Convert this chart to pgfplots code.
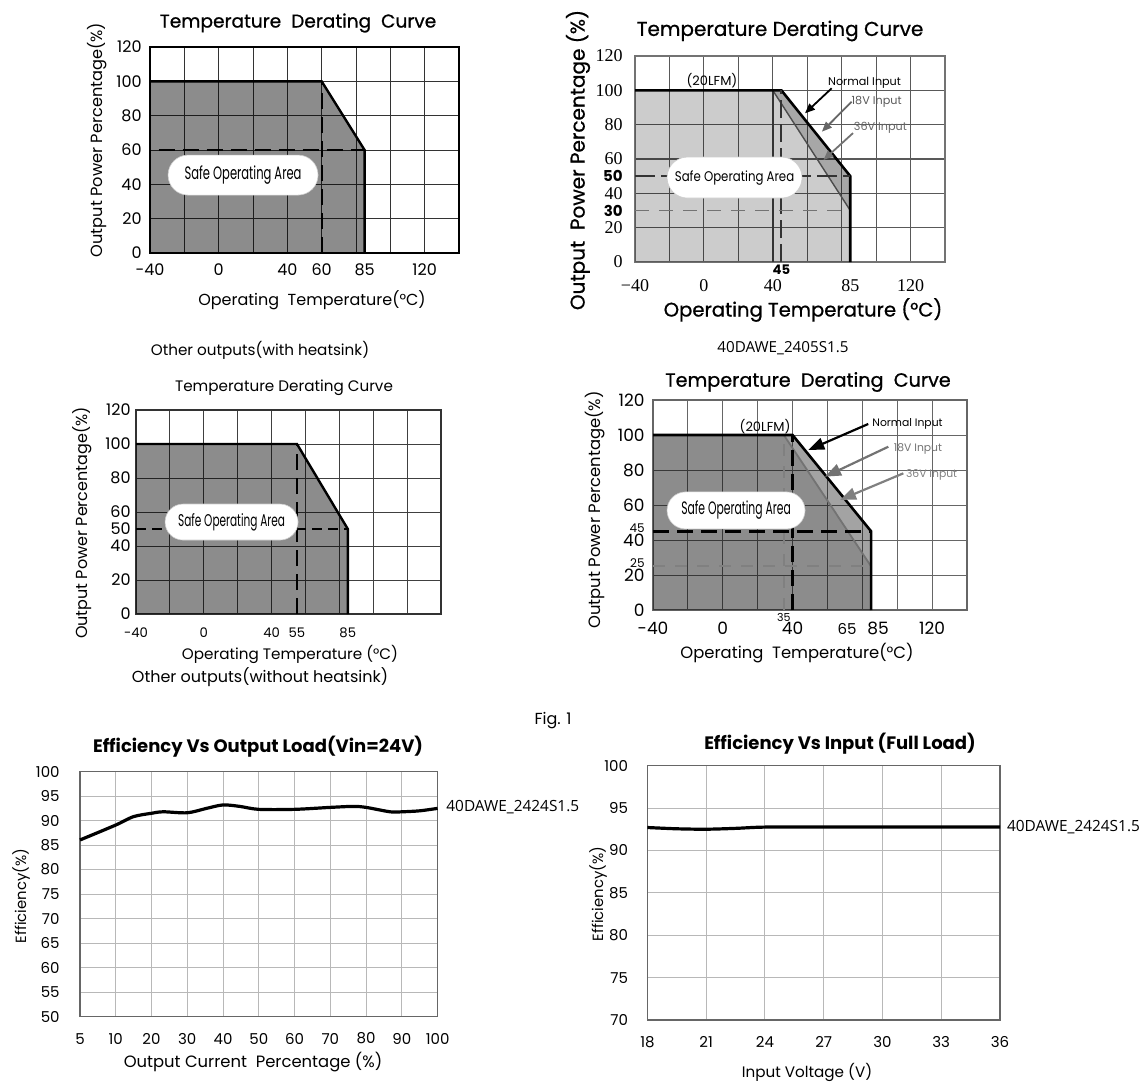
\documentclass[border=0pt]{standalone}
\usepackage{fontspec}
\setmainfont{Poppins}
\newfontfamily\popm{Poppins}[FakeBold=0.8]
\newfontfamily\serif{Liberation Serif}
\newfontfamily\osans{Open Sans}
\usepackage{graphicx}
\usepackage{pgfplots}
\pgfplotsset{compat=1.18}
\usetikzlibrary{shapes.misc, arrows.meta}
\newcommand\fs[1]{\fontsize{#1}{#1}\selectfont}
\newcommand\soa[2]{\scalebox{#2}[1]{\fs{#1}Safe Operating Area}}

\pgfplotsset{
 derate/.style={scale only axis, anchor=south west, xmin=-40, xmax=140, ymin=0, ymax=120,
   xtick={-40,-20,...,140}, ytick={0,20,...,120}, grid=major, major tick length=0pt,
   clip=false, /pgf/number format/assume math mode=true,
   extra x tick style={grid=none}, extra y tick style={grid=none}},
 eff/.style={scale only axis, anchor=south west, grid=major, major tick length=0pt,
   major grid style={black!28, line width=0.5pt}, axis line style={black!60, line width=0.6pt},
   /pgf/number format/assume math mode=true, clip=false}
}
\tikzset{soabox/.style={rounded rectangle, fill=white, draw=black!20, line width=0.3pt, inner sep=0pt}}

\begin{document}
\begin{tikzpicture}
\begin{scope}[x=0.5pt,y=-0.5pt]
\useasboundingbox (0,0) rectangle (1140,1082);
% ---- chart 1 texts
\node[font=\popm\fs{9.3}] at (298,23) {Temperature\ \ Derating\ \ Curve};
\node[font=\fs{8.1}, rotate=90] at (97,140) {Output Power Percentage(\%)};
\node[font=\fs{8}] at (312,300) {Operating\ \ Temperature(°C)};
% ---- chart 2 texts
\node[font=\popm\fs{10}] at (780,31) {Temperature Derating Curve};
\node[font=\popm\fs{10}, rotate=90] at (578,160) {Output\ \ Power Percentage (\%)};
\node[font=\popm\fs{9.8}] at (803,310) {Operating Temperature (°C)};
% ---- chart 3 texts
\node[font=\fs{7.6}] at (260,350) {Other outputs(with heatsink)};
\node[font=\fs{7.6}] at (284,388) {Temperature Derating Curve};
\node[font=\fs{8}, rotate=90] at (82,523) {Output Power Percentage(\%)};
\node[font=\fs{7.6}] at (290,654) {Operating Temperature (°C)};
\node[font=\fs{8}] at (260,677) {Other outputs(without heatsink)};
% ---- chart 4 texts
\node[font=\osans\fs{7.6}] at (783,348) {40DAWE\_2405S1.5};
\node[font=\popm\fs{9.6}] at (808,382) {Temperature\ \ Derating\ \ Curve};
\node[font=\fs{8.2}, rotate=90] at (595,510) {Output Power Percentage(\%)};
\node[font=\fs{8.2}] at (797,653) {Operating\ \ Temperature(°C)};
% ---- chart 5 / 6 texts
\node[font=\fs{8}] at (553,721) {Fig. 1};
\node[font=\bfseries\fs{9}] at (258,747) {Efficiency Vs Output Load(Vin=24V)};
\node[font=\fs{7.4}, rotate=90] at (21,896) {Efficiency(\%)};
\node[font=\fs{8.2}] at (253,1062) {Output Current\ \ Percentage (\%)};
\node[font=\osans\fs{7.7}, anchor=west, inner sep=0pt] at (446,807) {40DAWE\_2424S1.5};
\node[font=\bfseries\fs{9}] at (840,744) {Efficiency Vs Input (Full Load)};
\node[font=\fs{7.4}, rotate=90] at (598,894) {Efficiency(\%)};
\node[font=\fs{7.6}] at (807,1072) {Input Voltage (V)};
\node[font=\osans\fs{7.7}, anchor=west, inner sep=0pt] at (1006.7,827) {40DAWE\_2424S1.5};
\end{scope}

% ================= chart 1
\begin{axis}[derate, at={(75pt,-126.5pt)}, width=154.5pt, height=103pt,
  xticklabels={-40,,0,,40,60,,,120,}, extra x ticks={85}, extra x tick labels={85},
  major grid style={black!80, line width=0.5pt}, axis line style={black, line width=0.6pt},
  xticklabel style={font=\fs{8}, anchor=center, yshift=-8.5pt},
  yticklabel style={font=\fs{8}, anchor=east, inner sep=0pt, xshift=-4pt}]
\addplot[fill=black, fill opacity=0.45, draw=none] coordinates {(-40,0) (-40,100) (60,100) (85,60) (85,0)};
\addplot[black, line width=1.2pt] coordinates {(-40,100) (60,100) (85,60) (85,0)};
\addplot[black, line width=1pt, dash pattern=on 8pt off 4pt] coordinates {(-35,60) (85,60)};
\addplot[black, line width=1pt, dash pattern=on 8pt off 4pt] coordinates {(60,0) (60,100)};
\node[soabox, minimum width=75pt, minimum height=20pt] at (axis cs:14.2,45.4) {\soa{9}{0.64}};
\end{axis}

% ================= chart 2
\begin{axis}[derate, at={(317.5pt,-131pt)}, width=155pt, height=103pt,
  xticklabels={−40,,0,,40,,,,120,}, extra x ticks={85}, extra x tick labels={85},
  extra y ticks={30,50}, extra y tick labels={30,50},
  extra y tick style={yticklabel style={font=\bfseries\fs{7.5}}},
  major grid style={black!65, line width=0.6pt}, axis line style={black!55, line width=0.8pt},
  xticklabel style={font=\serif\fs{9}, anchor=center, yshift=-11.8pt},
  yticklabel style={font=\serif\fs{9}, anchor=east, inner sep=0pt, xshift=-6pt}]
\addplot[fill=black, fill opacity=0.2, draw=none] coordinates {(-40,0) (-40,100) (45,100) (85,50) (85,0)};
\addplot[fill=black, fill opacity=0.18, draw=none] coordinates {(40,100) (45,100) (85,50) (85,30)};
\addplot[black!70, line width=0.7pt] coordinates {(40,100) (85,30)};
\addplot[black!80, line width=0.9pt] coordinates {(40,0) (40,100)};
\addplot[black, line width=1.3pt] coordinates {(-40,100) (45,100) (85,50) (85,0)};
\addplot[black!80, line width=1pt, dash pattern=on 9pt off 3pt] coordinates {(45,0) (45,100)};
\addplot[black!80, line width=0.8pt, dash pattern=on 10pt off 3pt] coordinates {(-40,50) (85,50)};
\addplot[black!55, line width=0.8pt, dash pattern=on 7pt off 5pt] coordinates {(-40,30) (85,30)};
\node[soabox, minimum width=67.5pt, minimum height=20.5pt] at (axis cs:17.8,49.2) {\soa{7}{0.84}};
\node[font=\bfseries\fs{6.6}, inner sep=0pt] at (axis cs:45,0) [yshift=-4pt] {45};
\node[font=\fs{6.5}] at (axis cs:4.7,105.4) {(20LFM)};
\node[font=\fs{5.6}] at (axis cs:93.3,104.4) {Normal Input};
\node[font=\fs{5.6}, text=black!65] at (axis cs:100.3,93.4) {18V Input};
\node[font=\fs{5.6}, text=black!60] at (axis cs:102.5,77.9) {36V Input};
\draw[black, line width=0.9pt, -{Triangle[length=5pt,width=4pt]}] (axis cs:74.2,101.2) -- (axis cs:58.7,86.6);
\draw[black!60, line width=0.9pt, -{Triangle[length=5pt,width=4pt]}] (axis cs:85.8,93.4) -- (axis cs:68.5,75.9);
\draw[black!55, line width=0.9pt, -{Triangle[length=5pt,width=4pt]}] (axis cs:86.6,75.1) -- (axis cs:69.4,59.4);
\end{axis}

% ================= chart 3
\begin{axis}[derate, at={(68pt,-307pt)}, width=152.5pt, height=102pt,
  xticklabels={-40,,0,,40,,,,,}, extra x ticks={55,85}, extra x tick labels={55,85},
  extra y ticks={50}, extra y tick labels={50},
  major grid style={black!75, line width=0.5pt}, axis line style={black!80, line width=0.6pt},
  xticklabel style={font=\fs{6.6}, anchor=center, yshift=-9.5pt},
  yticklabel style={font=\fs{8}, anchor=east, inner sep=0pt, xshift=-2.5pt}]
\addplot[fill=black, fill opacity=0.45, draw=none] coordinates {(-40,0) (-40,100) (55,100) (85,50) (85,0)};
\addplot[black, line width=1.2pt] coordinates {(-40,100) (55,100) (85,50) (85,0)};
\addplot[black, line width=0.6pt, dash pattern=on 5pt off 3pt] coordinates {(-40,50) (85,50)};
\addplot[black, line width=1.3pt, dash pattern=on 8pt off 4pt] coordinates {(55,0) (55,100)};
\node[soabox, minimum width=66.5pt, minimum height=18pt] at (axis cs:16.4,54.1) {\soa{8.5}{0.62}};
\end{axis}

% ================= chart 4
\begin{axis}[derate, at={(326.5pt,-305pt)}, width=157pt, height=105pt,
  xticklabels={-40,,0,,40,,,,120,},
  extra y ticks={25,45}, extra y tick labels={25,45},
  extra y tick style={yticklabel style={font=\fs{6}, yshift=1.5pt}},
  major grid style={black!60, line width=0.5pt}, axis line style={black!60, line width=0.7pt},
  xticklabel style={font=\fs{8.5}, anchor=center, yshift=-9pt},
  yticklabel style={font=\fs{8.5}, anchor=east, inner sep=0pt, xshift=-4pt}]
\addplot[fill=black, fill opacity=0.45, draw=none] coordinates {(-40,0) (-40,100) (35,100) (85,25) (85,0)};
\addplot[fill=black, fill opacity=0.36, draw=none] coordinates {(35,100) (40,100) (85,45) (85,25)};
\addplot[black!55, line width=0.9pt] coordinates {(35,100) (85,25)};
\addplot[black, line width=1.3pt] coordinates {(-40,100) (40,100) (85,45) (85,0)};
\addplot[black!50, line width=1.1pt, dash pattern=on 6pt off 5pt] coordinates {(-40,25) (85,25)};
\addplot[black!50, line width=1.1pt, dash pattern=on 6pt off 5pt] coordinates {(35,0) (35,100)};
\addplot[black, line width=1.3pt, dash pattern=on 8pt off 4pt] coordinates {(-40,45) (85,45)};
\addplot[black, line width=1.2pt, dash pattern=on 8pt off 4pt] coordinates {(40,0) (40,100)};
\node[soabox, minimum width=69pt, minimum height=18.5pt] at (axis cs:7.6,56.9) {\soa{9}{0.6}};
\node[font=\fs{8.5}] at (axis cs:85,0) [xshift=3.5pt, yshift=-9pt] {85};
\node[font=\fs{7.5}] at (axis cs:65,0) [xshift=5.5pt, yshift=-9.5pt] {65};
\node[font=\fs{5.5}] at (axis cs:35,0) [yshift=-3.5pt] {35};
\node[font=\fs{6.5}] at (axis cs:24.2,104.6) {(20LFM)};
\node[font=\fs{5.4}] at (axis cs:105.9,106.3) {Normal Input};
\node[font=\fs{5.4}, text=black!55] at (axis cs:111.9,91.8) {18V Input};
\node[font=\fs{5.4}, text=black!50] at (axis cs:119.7,77.1) {36V Input};
\draw[black, line width=1.1pt, -{Triangle[length=8pt,width=6pt]}] (axis cs:83.4,106.3) -- (axis cs:49.0,91.4);
\draw[black!55, line width=1.1pt, -{Triangle[length=8pt,width=6pt]}] (axis cs:94.9,93.3) -- (axis cs:58.6,76.2);
\draw[black!50, line width=1.1pt, -{Triangle[length=8pt,width=6pt]}] (axis cs:103.5,78.1) -- (axis cs:67.2,62.9);
\end{axis}

% ================= chart 5
\begin{axis}[eff, at={(40pt,-508.3pt)}, width=178.8pt, height=122.5pt,
  xmin=0, xmax=10, ymin=50, ymax=100, xtick={0,...,10},
  xticklabels={5,10,20,30,40,50,60,70,80,90,100}, ytick={50,55,...,100},
  xticklabel style={font=\fs{7.5}, anchor=center, yshift=-11pt},
  yticklabel style={font=\fs{7.5}, anchor=east, inner sep=0pt, xshift=-10pt}]
\addplot[black, line width=1.6pt, smooth, tension=0.5] coordinates {
 (0,86.05) (1,89.1) (1.49,90.8) (2,91.5) (2.33,91.8) (3,91.6) (3.54,92.5) (4,93.2)
 (4.47,92.9) (5,92.3) (6,92.3) (7,92.7) (7.64,92.9) (8,92.7) (8.67,91.8) (9,91.8)
 (9.5,92.0) (10,92.5)};
\end{axis}

% ================= chart 6
\begin{axis}[eff, at={(323.7pt,-510pt)}, width=176.3pt, height=127.2pt,
  xmin=18, xmax=36, ymin=70, ymax=100, xtick={18,21,...,36}, ytick={70,75,...,100},
  xticklabel style={font=\fs{7.5}, anchor=center, yshift=-11pt},
  yticklabel style={font=\fs{7.5}, anchor=east, inner sep=0pt, xshift=-9.5pt}]
\addplot[black, line width=1.6pt, smooth, tension=0.5] coordinates {
 (18,92.7) (19.5,92.55) (21,92.5) (22.5,92.6) (24,92.75) (27,92.75) (30,92.75) (33,92.75) (36,92.75)};
\end{axis}
\end{tikzpicture}
\end{document}
